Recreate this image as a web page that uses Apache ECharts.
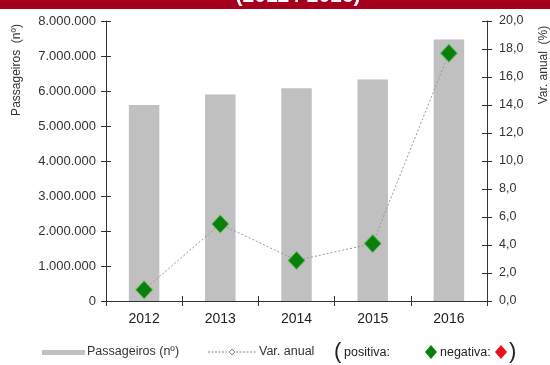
<!DOCTYPE html>
<html>
<head>
<meta charset="utf-8">
<script src="https://cdn.jsdelivr.net/npm/echarts@6/dist/echarts.min.js"></script>
<style>
  html, body { margin: 0; padding: 0; background: #fff; }
  #chart { width: 550px; height: 365px; }
</style>
</head>
<body>
<div id="chart"></div>
<script>
// Passenger totals per year and the year-on-year variation
const years = ['2012', '2013', '2014', '2015', '2016'];
const passengers = [5600000, 5900000, 6080000, 6330000, 7470000];
const annualChange = [0.8, 5.5, 2.9, 4.1, 17.7];

const leftTicks = { min: 0, max: 8000000, interval: 1000000 };
const rightTicks = { min: 0, max: 20, interval: 2 };

const FONT = 'Liberation Sans, Arial, sans-serif';
const AXIS_COLOR = '#333';
const BAR_COLOR = '#c0c0c0';
const POS_COLOR = '#0a800a';
const NEG_COLOR = '#e8101a';

function thousands(v) {
  return String(Math.round(v)).replace(/\B(?=(\d{3})+(?!\d))/g, '.');
}
function oneDecimal(v) {
  return v.toFixed(1).replace('.', ',');
}

const chart = echarts.init(document.getElementById('chart'), null, { renderer: 'canvas' });

const axisLine = { show: true, lineStyle: { color: AXIS_COLOR, width: 1 } };

chart.setOption({
  animation: false,
  grid: { left: 106, right: 63, top: 21, bottom: 64 },
  xAxis: [
    {
      type: 'category', data: years, position: 'bottom',
      boundaryGap: true,
      axisLine: axisLine,
      axisTick: { show: true, length: 5, lineStyle: { color: AXIS_COLOR } },
      axisLabel: { color: '#222', fontSize: 14, fontFamily: FONT, margin: 11 },
      splitLine: { show: false }
    },
    {
      type: 'category', data: years, position: 'bottom',
      boundaryGap: true,
      axisLine: { show: false },
      axisTick: { show: true, inside: true, length: 5, lineStyle: { color: AXIS_COLOR } },
      axisLabel: { show: false },
      splitLine: { show: false }
    }
  ],
  yAxis: [
    {
      type: 'value', position: 'left',
      min: leftTicks.min, max: leftTicks.max, interval: leftTicks.interval,
      axisLine: axisLine,
      axisTick: { show: true, length: 5, lineStyle: { color: AXIS_COLOR } },
      axisLabel: { color: '#333', fontSize: 13, fontFamily: FONT, margin: 10, formatter: thousands },
      splitLine: { show: false }
    },
    {
      type: 'value', position: 'right',
      min: rightTicks.min, max: rightTicks.max, interval: rightTicks.interval,
      axisLine: axisLine,
      axisTick: { show: true, length: 5, lineStyle: { color: AXIS_COLOR } },
      axisLabel: { color: '#333', fontSize: 12.5, fontFamily: FONT, margin: 12, formatter: oneDecimal },
      splitLine: { show: false }
    },
    {
      type: 'value', position: 'left',
      min: leftTicks.min, max: leftTicks.max, interval: leftTicks.interval,
      axisLine: { show: false },
      axisTick: { show: true, inside: true, length: 5, lineStyle: { color: AXIS_COLOR } },
      axisLabel: { show: false },
      splitLine: { show: false }
    },
    {
      type: 'value', position: 'right',
      min: rightTicks.min, max: rightTicks.max, interval: rightTicks.interval,
      axisLine: { show: false },
      axisTick: { show: true, inside: true, length: 5, lineStyle: { color: AXIS_COLOR } },
      axisLabel: { show: false },
      splitLine: { show: false }
    }
  ],
  series: [
    {
      name: 'Passageiros (nº)',
      type: 'bar',
      xAxisIndex: 0, yAxisIndex: 0,
      data: passengers,
      barWidth: '40%',
      itemStyle: { color: BAR_COLOR }
    },
    {
      name: 'Var. anual',
      type: 'line',
      xAxisIndex: 0, yAxisIndex: 1,
      data: annualChange,
      symbol: 'diamond',
      symbolSize: [17, 18],
      z: 5,
      lineStyle: { color: '#999', width: 1, type: [2, 2] },
      itemStyle: {
        color: function (p) { return p.value >= 0 ? POS_COLOR : NEG_COLOR; },
        borderColor: 'rgba(110,190,110,0.7)',
        borderWidth: 1
      }
    }
  ],
  graphic: [
    // title band
    { type: 'rect', left: 0, top: 0, shape: { width: 550, height: 9 }, style: { fill: '#a6001e' }, z: 10 },
    { type: 'text', x: 298, y: -4, z: 11,
      style: { text: '(2012 / 2016)', fill: '#fff', font: 'bold 21px ' + FONT, align: 'center', verticalAlign: 'middle' } },
    // axis names
    { type: 'text', x: 17, y: 70, rotation: Math.PI / 2,
      style: { text: 'Passageiros  (nº)', fill: '#333', font: '12px ' + FONT, align: 'center', verticalAlign: 'middle' } },
    { type: 'text', x: 544, y: 65, rotation: Math.PI / 2,
      style: { text: 'Var. anual  (%)', fill: '#333', font: '12px ' + FONT, align: 'center', verticalAlign: 'middle' } },
    // legend: bars
    { type: 'rect', shape: { x: 42, y: 350, width: 43, height: 5 }, style: { fill: BAR_COLOR } },
    { type: 'text', x: 87, y: 352,
      style: { text: 'Passageiros (nº)', fill: '#333', font: '12.5px ' + FONT, verticalAlign: 'middle' } },
    // legend: line
    { type: 'line', shape: { x1: 208, y1: 352, x2: 256, y2: 352 }, style: { stroke: '#888', lineWidth: 1, lineDash: [2, 1.5] } },
    { type: 'polygon', shape: { points: [[232, 349], [235, 352], [232, 355], [229, 352]] }, style: { fill: '#fff', stroke: '#888', lineWidth: 1 } },
    { type: 'text', x: 259, y: 352,
      style: { text: 'Var. anual', fill: '#333', font: '12.5px ' + FONT, verticalAlign: 'middle' } },
    // legend: marker colours
    { type: 'text', x: 334, y: 352,
      style: { text: '(', fill: '#222', font: '22px ' + FONT, verticalAlign: 'middle' } },
    { type: 'text', x: 344, y: 353,
      style: { text: 'positiva:', fill: '#222', font: '12.5px ' + FONT, verticalAlign: 'middle' } },
    { type: 'polygon', shape: { points: [[431, 345], [437, 352], [431, 359], [425, 352]] }, style: { fill: POS_COLOR } },
    { type: 'text', x: 440, y: 353,
      style: { text: 'negativa:', fill: '#222', font: '12.5px ' + FONT, verticalAlign: 'middle' } },
    { type: 'polygon', shape: { points: [[501, 345], [507, 352], [501, 359], [495, 352]] }, style: { fill: NEG_COLOR } },
    { type: 'text', x: 509, y: 352,
      style: { text: ')', fill: '#222', font: '22px ' + FONT, verticalAlign: 'middle' } }
  ]
});
</script>
</body>
</html>
